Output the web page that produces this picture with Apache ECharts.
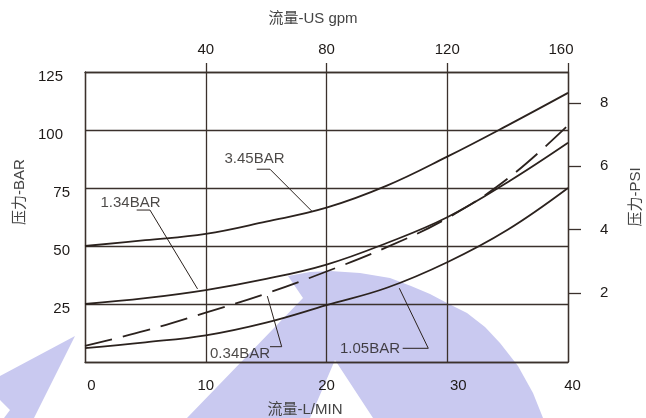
<!DOCTYPE html>
<html>
<head>
<meta charset="utf-8">
<script src="https://cdn.jsdelivr.net/npm/echarts@6/dist/echarts.min.js"></script>
<style>
html,body{margin:0;padding:0;background:#fff;}
#c{width:646px;height:418px;}
</style>
</head>
<body>
<div id="c"></div>
<script>
// ---- data ----
const flowLpm = [0, 5, 10, 15, 20, 25, 30, 35, 40];
const p345 = [50, 52.5, 55.2, 60.5, 66.5, 76, 88.5, 102, 116];
const p134 = [25, 27.5, 31, 35.8, 42, 51.3, 62.4, 77.5, 94.5];
const p034 = [7, 13.5, 21.3, 29.5, 39, 49.5, 62, 79, 102];
const p105 = [6, 8.5, 11.5, 17, 24.5, 32, 43, 57, 75];

const lpmTicks = [0, 10, 20, 30, 40];
const gpmTicks = [40, 80, 120, 160];
const barTicks = [25, 50, 75, 100, 125];
const psiTicks = [2, 4, 6, 8];

// annotation labels: text, [x, y] of text centre, leader polyline
const annNames = ['3.45BAR', '1.34BAR', '0.34BAR', '1.05BAR'];
const annText = [[14.04, 87.5], [3.77, 68.75], [12.84, 3.45], [23.6, 5.6]];
const annLeaders = [
  [[14.22, 83.1], [15.32, 83.1], [18.77, 65.1]],
  [[4.28, 65.5], [5.38, 65.5], [9.32, 31.5]],
  [[15.32, 6.6], [16.29, 6.6], [15.1, 28.4]],
  [[26.31, 5.9], [28.43, 5.9], [26.03, 31.8]]
];

// ---- chart ----
const FONT = "'Liberation Sans', 'Noto Sans CJK SC', sans-serif";
const INK = '#2b221e';
const GRIDC = '#3b312c';
const chart = echarts.init(document.getElementById('c'), null, {renderer: 'canvas'});

const pair = (xs, ys) => xs.map((x, i) => [x, ys[i]]);
const curve = (name, ys, dashed) => ({
  name, type: 'line', xAxisIndex: 0, yAxisIndex: 0,
  data: pair(flowLpm, ys), smooth: 0.4, symbol: 'none', z: 3,
  lineStyle: {color: INK, width: 1.8, type: dashed ? [28, 11] : 'solid'}
});

const series = [
  curve('3.45BAR', p345),
  curve('1.34BAR', p134),
  curve('0.34BAR', p034, true),
  curve('1.05BAR', p105)
];
annLeaders.forEach((pts, i) => series.push({
  name: 'leader' + i, type: 'line', xAxisIndex: 0, yAxisIndex: 0,
  data: pts, smooth: false, symbol: 'none', z: 3,
  lineStyle: {color: INK, width: 1}
}));
series.push({
  name: 'labels', type: 'scatter', xAxisIndex: 0, yAxisIndex: 0,
  symbolSize: 0, z: 4,
  data: annNames.map((n, i) => ({name: n, value: annText[i]})),
  label: {show: true, position: 'inside', formatter: p => p.name,
    color: '#1e1a18', fontSize: 15, fontFamily: FONT}
});

const lavender = '#c9c9f0';

chart.setOption({
  animation: false,
  backgroundColor: '#fff',
  grid: {left: 85, right: 78, top: 72, bottom: 56, containLabel: false, outerBoundsMode: 'none'},
  graphic: [
    {type: 'polygon', z: -10, silent: true,
      shape: {points: [[75,336],[0,376],[0,400],[10,410],[4,418],[34,418]]},
      style: {fill: lavender}},
    {type: 'polygon', z: -10, silent: true,
      shape: {points: [[288,276],[303,298],[187,418],[310,418],[335,360],[373,418],[543,418],
        [533,393],[518,366],[500,343],[485,327],[467,313],[447,303],[430,294],[411,286],
        [390,278],[360,273],[330,271],[310,272]]},
      style: {fill: lavender}}
  ],
  xAxis: [
    {
      type: 'value', position: 'bottom', min: 0, max: 40, interval: 10,
      name: '流量-L/MIN', nameLocation: 'middle', nameGap: 40,
      nameTextStyle: {color: '#444', fontSize: 15, fontFamily: FONT, padding: [0, 43, 0, 0]},
      axisLine: {show: true, onZero: false, lineStyle: {color: GRIDC, width: 1.3}},
      axisTick: {show: false},
      axisLabel: {
        margin: 16, color: '#1e1a18', fontSize: 15, fontFamily: FONT,
        formatter: v => v === 0 ? '{a|0}' : v === 30 ? '{c|30}' : v === 40 ? '{d|40}' : String(v),
        rich: {
          a: {fontSize: 15, fontFamily: FONT, color: '#1e1a18', padding: [0, 0, 0, 13]},
          c: {fontSize: 15, fontFamily: FONT, color: '#1e1a18', padding: [0, 0, 0, 22]},
          d: {fontSize: 15, fontFamily: FONT, color: '#1e1a18', padding: [0, 0, 0, 9]}
        }
      },
      splitLine: {show: true, lineStyle: {color: GRIDC, width: 1.3}}
    },
    {
      type: 'value', position: 'top', min: 0, max: 160,
      name: '流量-US gpm', nameLocation: 'middle', nameGap: 46,
      nameTextStyle: {color: '#444', fontSize: 15, fontFamily: FONT, padding: [0, 27, 0, 0]},
      axisLine: {show: true, onZero: false, lineStyle: {color: GRIDC, width: 1.3}},
      axisTick: {show: true, length: 9, customValues: gpmTicks, lineStyle: {color: GRIDC, width: 1.3}},
      axisLabel: {
        margin: 15, color: '#1e1a18', fontSize: 15, fontFamily: FONT, customValues: gpmTicks,
        formatter: v => v === 160 ? '{e|160}' : String(v),
        rich: {e: {fontSize: 15, fontFamily: FONT, color: '#1e1a18', padding: [0, 14, 0, 0]}}
      },
      splitLine: {show: false}
    }
  ],
  yAxis: [
    {
      type: 'value', position: 'left', min: 0, max: 125, interval: 25,
      name: '压力-BAR', nameLocation: 'middle', nameGap: 57, nameRotate: 90,
      nameTextStyle: {color: '#444', fontSize: 15, fontFamily: FONT, padding: [0, 0, 0, 50]},
      axisLine: {show: true, onZero: false, lineStyle: {color: GRIDC, width: 1.3}},
      axisTick: {show: false},
      axisLabel: {
        margin: 15, color: '#1e1a18', fontSize: 15, fontFamily: FONT, customValues: barTicks,
        padding: [10, 0, 0, 0],
        formatter: v => v >= 100 ? '{w|' + v + '}' : String(v),
        rich: {w: {fontSize: 15, fontFamily: FONT, color: '#1e1a18', padding: [0, 7, 0, 0]}}
      },
      splitLine: {show: true, lineStyle: {color: GRIDC, width: 1.3}}
    },
    {
      type: 'value', position: 'right', min: -0.17, max: 8.97,
      name: '压力-PSI', nameLocation: 'middle', nameGap: 60, nameRotate: 90,
      nameTextStyle: {color: '#444', fontSize: 15, fontFamily: FONT, padding: [0, 0, 0, 40]},
      axisLine: {show: true, onZero: false, lineStyle: {color: GRIDC, width: 1.3}},
      axisTick: {show: true, length: 13, customValues: psiTicks, lineStyle: {color: GRIDC, width: 1.3}},
      axisLabel: {
        margin: 32, color: '#1e1a18', fontSize: 15, fontFamily: FONT, customValues: psiTicks,
        padding: [4, 0, 0, 0]
      },
      splitLine: {show: false}
    }
  ],
  series
});
</script>
</body>
</html>
